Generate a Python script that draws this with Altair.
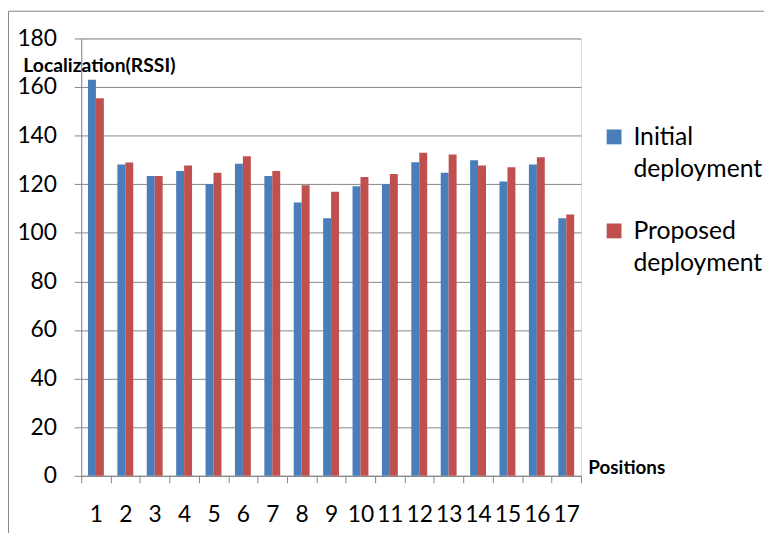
import altair as alt
import pandas as pd

positions = list(range(1, 18))
series = ["Initial deployment", "Proposed deployment"]
colors = ["#4A7EBB", "#C0504D"]
initial = [163, 128.1, 123.4, 125.4, 120.1, 128.4, 123.4, 112.5, 106, 119.2, 120, 129.1, 124.7, 129.9, 121.1, 128.1, 106]
proposed = [155.4, 128.9, 123.4, 127.7, 124.7, 131.5, 125.4, 119.6, 116.9, 123, 124.2, 133, 132.2, 127.7, 127, 131.1, 107.5]
y_ticks = list(range(0, 181, 20))

rows = []
for p, a, b in zip(positions, initial, proposed):
    rows.append({"Position": p, "Series": series[0], "Value": a})
    rows.append({"Position": p, "Series": series[1], "Value": b})
df = pd.DataFrame(rows)

W, H = 505, 442
GRAY = "#868686"

bars = alt.Chart(df).mark_bar().encode(
    x=alt.X("Position:O", sort=positions,
            scale=alt.Scale(paddingInner=0, paddingOuter=0),
            axis=alt.Axis(title="Positions", labelAngle=0, tickBand="extent",
                          grid=False, tickSize=7, tickColor=GRAY, domainColor=GRAY,
                          labelFont="Lato", labelFontSize=23, labelColor="black",
                          labelPadding=21,
                          titleFont="Lato", titleFontSize=19, titleFontWeight="bold",
                          titleAngle=0, titleAlign="left", titleBaseline="alphabetic",
                          titleX=512, titleY=-2, titleColor="black")),
    xOffset=alt.XOffset("Series:N", sort=series,
                        scale=alt.Scale(paddingInner=0, paddingOuter=0.85)),
    y=alt.Y("Value:Q", scale=alt.Scale(domain=[0, 180]),
            axis=alt.Axis(values=y_ticks, title="Localization(RSSI)",
                          grid=True, gridColor=GRAY, tickSize=7, tickColor=GRAY,
                          domainColor=GRAY, labelFont="Lato", labelFontSize=23,
                          labelColor="black", labelPadding=18,
                          titleFont="Lato", titleFontSize=19.5, titleFontWeight="bold",
                          titleAngle=0, titleAlign="left", titleBaseline="alphabetic",
                          titleX=-59, titleY=33, titleColor="black")),
    color=alt.Color("Series:N", sort=series,
                    scale=alt.Scale(domain=series, range=colors),
                    legend=alt.Legend(title=None, orient="none", legendX=526, legendY=87,
                                      symbolType="square", symbolSize=225,
                                      symbolStrokeWidth=0, labelFont="Lato",
                                      labelFontSize=25, labelColor="black",
                                      labelExpr="split(datum.label, ' ')",
                                      rowPadding=36, labelOffset=7, padding=0,
                                      labelLimit=300)),
)

frame_df = pd.DataFrame({"a": [0]})
left_rule = alt.Chart(frame_df).mark_rule(color=GRAY, strokeWidth=1).encode(
    x=alt.value(-73.5), y=alt.value(-27.5), y2=alt.value(H + 100))
top_rule = alt.Chart(frame_df).mark_rule(color=GRAY, strokeWidth=1).encode(
    x=alt.value(-73.5), x2=alt.value(W + 300), y=alt.value(-27.5))

chart = alt.layer(bars, left_rule, top_rule).properties(
    width=W, height=H,
    autosize=alt.AutoSizeParams(type="none"),
    padding={"left": 74, "top": 28, "right": 185, "bottom": 55},
).configure_view(stroke=None).configure(
    style={"guide-label": {"lineHeight": 33}}
)

chart.save("out.html", embed_options={"renderer": "svg", "actions": False})
